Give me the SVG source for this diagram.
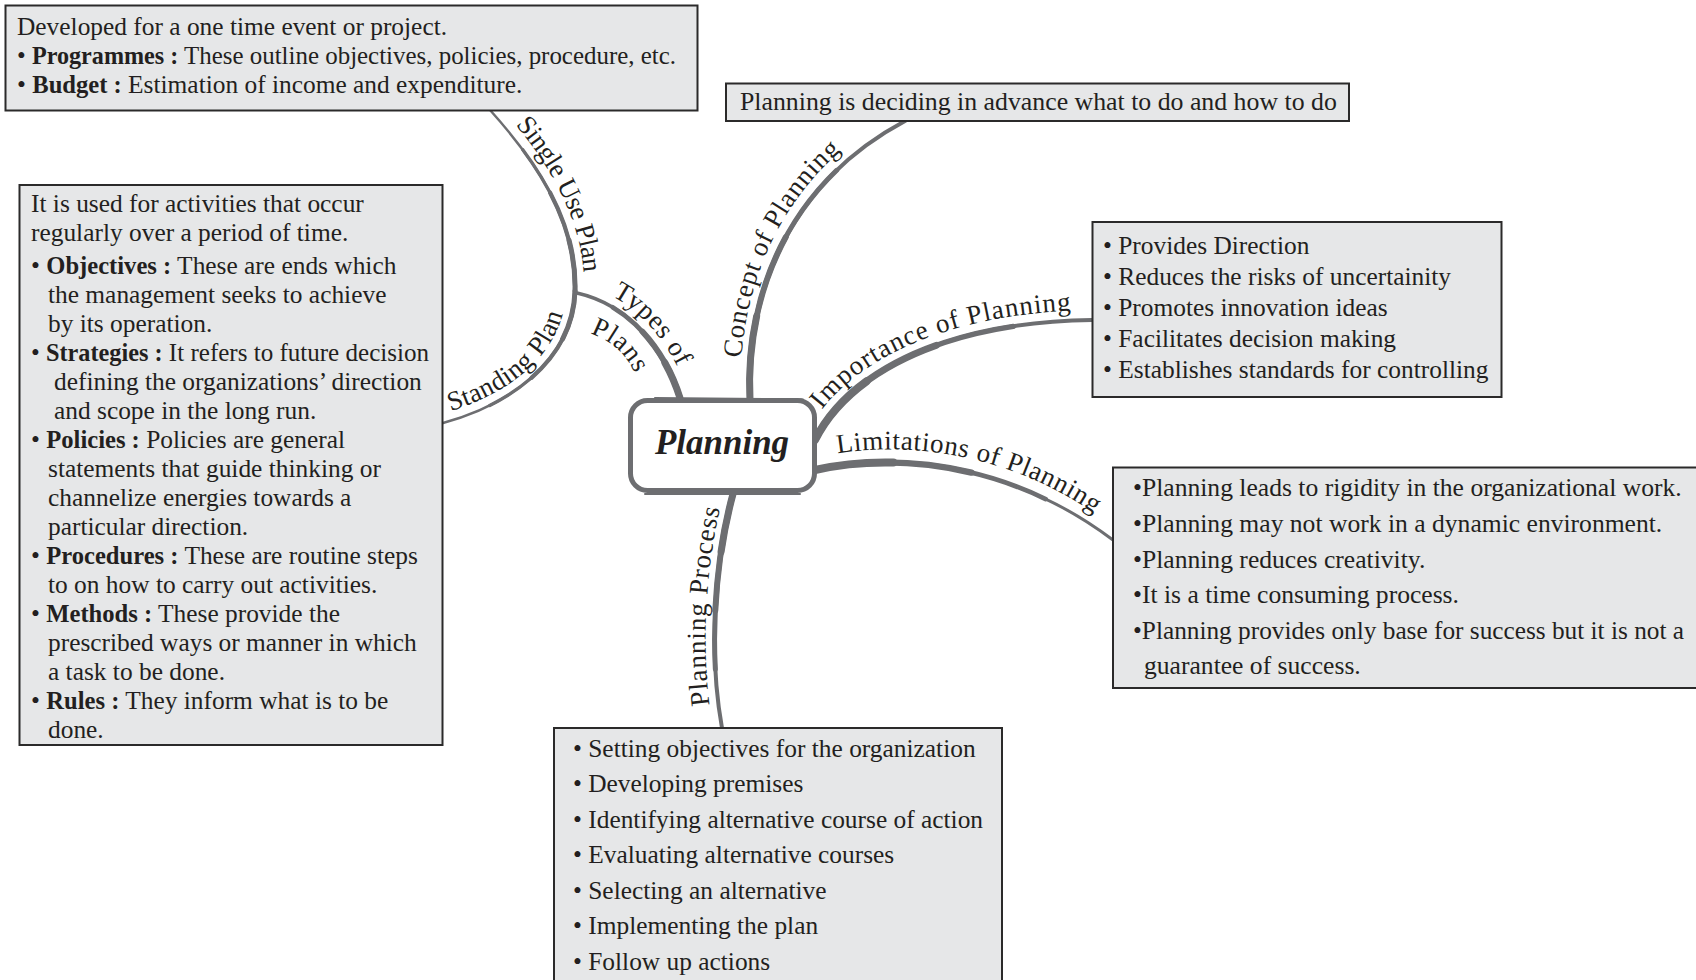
<svg xmlns="http://www.w3.org/2000/svg" width="1696" height="980" viewBox="0 0 1696 980">
<style>
.box{fill:#e6e7e8;stroke:#2b2a2a;stroke-width:2}
.t{font-family:"Liberation Serif","Times New Roman",serif;font-size:25.4px;fill:#231f20}
.b{font-weight:bold;font-size:24.6px}
.lbl{font-family:"Liberation Serif","Times New Roman",serif;font-size:27px;fill:#231f20}
.cn{fill:none;stroke:#6d6e71;stroke-linecap:round}
.d75{stroke-dasharray:75 200}
.d50{stroke-dasharray:50 200}
.d25{stroke-dasharray:25 200}
.core{fill:#fff;stroke:#6d6e71;stroke-width:5}
.sk{fill:none;stroke:#6d6e71;stroke-width:2;stroke-linecap:round}
.title{font-family:"Liberation Serif","Times New Roman",serif;font-size:35px;font-weight:bold;font-style:italic;fill:#231f20}
</style>
<defs>
<path id="p-concept" pathLength="100" d="M750,400 C745,300 785,185 905,121"/>
<path id="p-types" pathLength="100" d="M680,398 C665,350 630,305 577,293"/>
<path id="p-single" pathLength="100" d="M575,291 C577,220 535,160 490,110"/>
<path id="p-standing" pathLength="100" d="M575,291 C573,360 510,405 443,423"/>
<path id="p-importance" pathLength="100" d="M815,440 C850,370 950,322 1092,320"/>
<path id="p-limitations" pathLength="100" d="M815,470 C880,455 1000,455 1113,540"/>
<path id="p-process" pathLength="100" d="M733,494 C715,560 708,650 722,728"/>
<path id="l-concept" d="M741,400 C736,298 775,177 898,112"/>
<path id="l-types" d="M579,284 C636,296 673,346 689,395"/>
<path id="l-plans" d="M569,327 C622,339 633,361 648,409"/>
<path id="l-single" d="M497,104 C543,153 586,218 584,290"/>
<path id="l-standing" d="M441,414 C506,396 564,356 566,290"/>
<path id="l-importance" d="M806,435 C842,362 946,312 1092,310"/>
<path id="l-limitations" d="M820,457 C882,442 1003,442 1110,525"/>
<path id="l-process" d="M713,727 C699,650 706,560 724,492"/>
</defs>
<rect width="1696" height="980" fill="#fff"/>

<g id="connectors">
<use href="#p-concept" class="cn" style="stroke-width:4"/>
<use href="#p-concept" class="cn d75" style="stroke-width:5"/>
<use href="#p-concept" class="cn d50" style="stroke-width:6"/>
<use href="#p-concept" class="cn d25" style="stroke-width:7"/>

<use href="#p-types" class="cn" style="stroke-width:3.5"/>
<use href="#p-types" class="cn d75" style="stroke-width:4.7"/>
<use href="#p-types" class="cn d50" style="stroke-width:5.8"/>
<use href="#p-types" class="cn d25" style="stroke-width:7"/>

<use href="#p-single" class="cn" style="stroke-width:2.5"/>
<use href="#p-single" class="cn d75" style="stroke-width:3.3"/>
<use href="#p-single" class="cn d50" style="stroke-width:4.2"/>
<use href="#p-single" class="cn d25" style="stroke-width:5"/>

<use href="#p-standing" class="cn" style="stroke-width:2.5"/>
<use href="#p-standing" class="cn d75" style="stroke-width:3.3"/>
<use href="#p-standing" class="cn d50" style="stroke-width:4.2"/>
<use href="#p-standing" class="cn d25" style="stroke-width:5"/>

<use href="#p-importance" class="cn" style="stroke-width:4"/>
<use href="#p-importance" class="cn d75" style="stroke-width:5.3"/>
<use href="#p-importance" class="cn d50" style="stroke-width:6.7"/>
<use href="#p-importance" class="cn d25" style="stroke-width:8"/>

<use href="#p-limitations" class="cn" style="stroke-width:3"/>
<use href="#p-limitations" class="cn d75" style="stroke-width:4.7"/>
<use href="#p-limitations" class="cn d50" style="stroke-width:6.3"/>
<use href="#p-limitations" class="cn d25" style="stroke-width:8"/>

<use href="#p-process" class="cn" style="stroke-width:4"/>
<use href="#p-process" class="cn d75" style="stroke-width:5"/>
<use href="#p-process" class="cn d50" style="stroke-width:6"/>
<use href="#p-process" class="cn d25" style="stroke-width:7"/>

<text class="lbl"><textPath href="#l-concept" startOffset="42" textLength="236" lengthAdjust="spacing">Concept of Planning</textPath></text>
<text class="lbl"><textPath href="#l-types" startOffset="35" textLength="98" lengthAdjust="spacing">Types of</textPath></text>
<text class="lbl"><textPath href="#l-plans" startOffset="22" textLength="62" lengthAdjust="spacing">Plans</textPath></text>
<text class="lbl"><textPath href="#l-single" startOffset="28" textLength="165" lengthAdjust="spacing">Single Use Plan</textPath></text>
<text class="lbl"><textPath href="#l-standing" startOffset="10" textLength="155" lengthAdjust="spacing">Standing Plan</textPath></text>
<text class="lbl"><textPath href="#l-importance" startOffset="30" textLength="276" lengthAdjust="spacing">Importance of Planning</textPath></text>
<text class="lbl"><textPath href="#l-limitations" startOffset="18" textLength="270" lengthAdjust="spacing">Limitations of Planning</textPath></text>
<text class="lbl"><textPath href="#l-process" startOffset="22" textLength="198" lengthAdjust="spacing">Planning Process</textPath></text>
</g>

<g id="node-planning">
<rect class="core" x="630.5" y="400.5" width="184" height="90" rx="17"/>
<path class="sk" d="M655,398 L803,399.5"/>
<path class="sk" d="M645,494 L800,494"/>
<text class="title" x="722" y="454" text-anchor="middle">Planning</text>
</g>

<g id="node-single-use">
<rect class="box" x="5.5" y="5.5" width="692" height="105"/>
<text class="t" x="17" y="35">Developed for a one time event or project.</text>
<text class="t" x="17" y="64" textLength="659" lengthAdjust="spacingAndGlyphs">• <tspan class="b">Programmes :</tspan> These outline objectives, policies, procedure, etc.</text>
<text class="t" x="17" y="93">• <tspan class="b">Budget :</tspan> Estimation of income and expenditure.</text>
</g>

<g id="node-concept">
<rect class="box" x="726" y="83.5" width="623" height="37.5"/>
<text class="t" x="740" y="110" style="font-size:25.8px">Planning is deciding in advance what to do and how to do</text>
</g>

<g id="node-standing">
<rect class="box" x="19.5" y="185" width="423" height="560"/>
<text class="t" x="31" y="211.5">It is used for activities that occur</text>
<text class="t" x="31" y="240.5">regularly over a period of time.</text>
<text class="t" x="31" y="273.5">• <tspan class="b">Objectives :</tspan> These are ends which</text>
<text class="t" x="48" y="302.5">the management seeks to achieve</text>
<text class="t" x="48" y="331.5">by its operation.</text>
<text class="t" x="31" y="360.5" textLength="398" lengthAdjust="spacingAndGlyphs">• <tspan class="b">Strategies :</tspan> It refers to future decision</text>
<text class="t" x="54" y="389.5">defining the organizations’ direction</text>
<text class="t" x="54" y="418.5">and scope in the long run.</text>
<text class="t" x="31" y="447.5">• <tspan class="b">Policies :</tspan> Policies are general</text>
<text class="t" x="48" y="476.5">statements that guide thinking or</text>
<text class="t" x="48" y="505.5">channelize energies towards a</text>
<text class="t" x="48" y="534.5">particular direction.</text>
<text class="t" x="31" y="563.5">• <tspan class="b">Procedures :</tspan> These are routine steps</text>
<text class="t" x="48" y="592.5">to on how to carry out activities.</text>
<text class="t" x="31" y="621.5">• <tspan class="b">Methods :</tspan> These provide the</text>
<text class="t" x="48" y="650.5">prescribed ways or manner in which</text>
<text class="t" x="48" y="679.5">a task to be done.</text>
<text class="t" x="31" y="708.5">• <tspan class="b">Rules :</tspan> They inform what is to be</text>
<text class="t" x="48" y="737.5">done.</text>
</g>

<g id="node-importance">
<rect class="box" x="1092.5" y="222" width="409" height="175"/>
<text class="t" x="1103" y="254">• Provides Direction</text>
<text class="t" x="1103" y="285">• Reduces the risks of uncertainity</text>
<text class="t" x="1103" y="316">• Promotes innovation ideas</text>
<text class="t" x="1103" y="347">• Facilitates decision making</text>
<text class="t" x="1103" y="378">• Establishes standards for controlling</text>
</g>

<g id="node-limitations">
<rect class="box" x="1113" y="467.5" width="600" height="220.5"/>
<text class="t" x="1133" y="496" style="font-size:25.6px">•Planning leads to rigidity in the organizational work.</text>
<text class="t" x="1133" y="532" style="font-size:25.6px">•Planning may not work in a dynamic environment.</text>
<text class="t" x="1133" y="567.5" style="font-size:25.6px">•Planning reduces creativity.</text>
<text class="t" x="1133" y="603" style="font-size:25.6px">•It is a time consuming process.</text>
<text class="t" x="1133" y="639" style="font-size:25.6px" textLength="551" lengthAdjust="spacingAndGlyphs">•Planning provides only base for success but it is not a</text>
<text class="t" x="1144" y="674" style="font-size:25.6px">guarantee of success.</text>
</g>

<g id="node-process">
<rect class="box" x="554" y="728" width="448" height="270"/>
<text class="t" x="573" y="757">• Setting objectives for the organization</text>
<text class="t" x="573" y="792">• Developing premises</text>
<text class="t" x="573" y="827.5">• Identifying alternative course of action</text>
<text class="t" x="573" y="863">• Evaluating alternative courses</text>
<text class="t" x="573" y="898.5">• Selecting an alternative</text>
<text class="t" x="573" y="934">• Implementing the plan</text>
<text class="t" x="573" y="970">• Follow up actions</text>
</g>
</svg>
